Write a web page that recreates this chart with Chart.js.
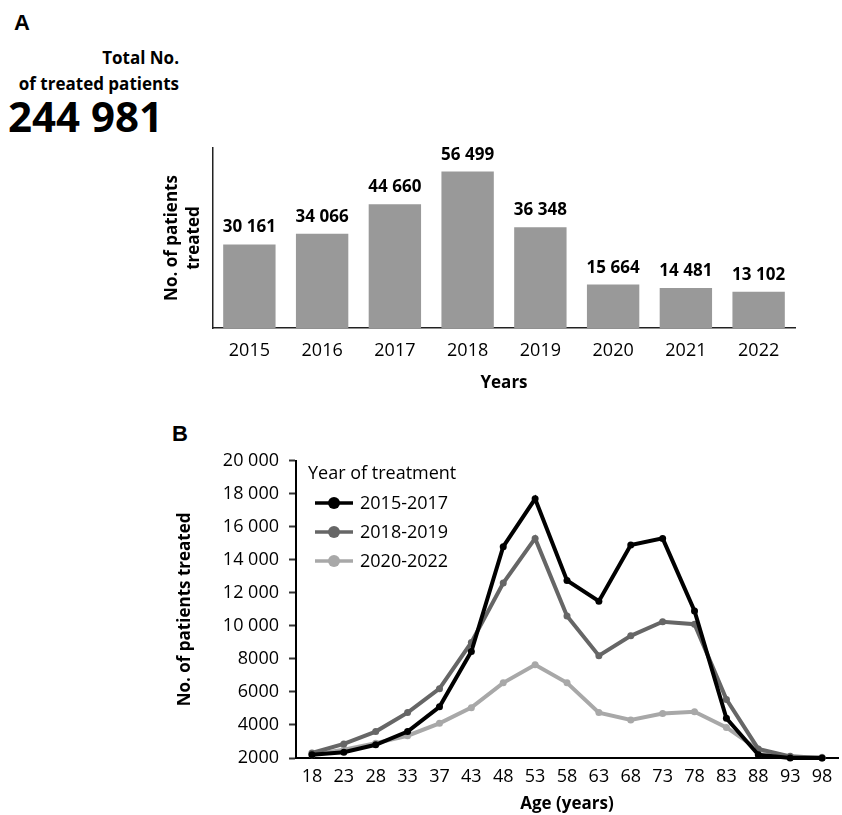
<!DOCTYPE html>
<html>
<head>
<meta charset="utf-8">
<script src="https://cdn.jsdelivr.net/npm/chart.js@4.4.1/dist/chart.umd.min.js"></script>
<style>
  body { margin: 0; width: 842px; height: 815px; position: relative; overflow: hidden; background: #fff; font-family: "Open Sans", sans-serif; color: #000; }
  .panel { position: absolute; font-family: "Liberation Sans", Arial, sans-serif; font-weight: bold; font-size: 22px; line-height: 24px; }
  .hdr { position: absolute; left: 0; width: 179px; text-align: right; font-weight: bold; font-size: 17px; line-height: 20px; white-space: nowrap; }
  .total { position: absolute; left: 8px; top: 92px; font-weight: bold; font-size: 42px; line-height: 48px; white-space: nowrap; }
  canvas { position: absolute; }
</style>
</head>
<body>
<div class="panel" style="left:14px; top:11px;">A</div>
<div class="hdr" style="top:48px;">Total No.</div>
<div class="hdr" style="top:74px;">of treated patients</div>
<div class="total">244 981</div>
<canvas id="bars" width="660" height="260" style="left:150px; top:140px;"></canvas>

<div class="panel" style="left:172px; top:422px;">B</div>
<canvas id="ages" width="682" height="375" style="left:160px; top:440px;"></canvas>

<script>
// Patients treated per year
const years = ['2015', '2016', '2017', '2018', '2019', '2020', '2021', '2022'];
const patientsPerYear = [30161, 34066, 44660, 56499, 36348, 15664, 14481, 13102];

// Patients treated by age group, per treatment period
const ageGroups = ['18', '23', '28', '33', '37', '43', '48', '53', '58', '63', '68', '73', '78', '83', '88', '93', '98'];
const period2015to2017 = [2200, 2350, 2800, 3600, 5100, 8450, 14800, 17700, 12750, 11500, 14900, 15300, 10900, 4400, 2200, 2000, 2000];
const period2018to2019 = [2300, 2850, 3600, 4750, 6200, 9000, 12600, 15300, 10600, 8200, 9400, 10250, 10100, 5550, 2550, 2100, 2000];
const period2020to2022 = [2200, 2500, 2900, 3350, 4100, 5050, 6550, 7650, 6550, 4750, 4300, 4700, 4800, 3850, 2500, 2050, 2050];
const periodLabels = ['2015-2017', '2018-2019', '2020-2022'];
const ageTicks = [2000, 4000, 6000, 8000, 10000, 12000, 14000, 16000, 18000, 20000];

const FONT = '"Open Sans", sans-serif';

function spaced(v) {
  return String(v).replace(/\B(?=(\d{3})+(?!\d))/g, ' ');
}
function axisNumber(v) {
  return v >= 10000 ? spaced(v) : String(v);
}

// Value printed above each bar
const barValueLabels = {
  id: 'barValueLabels',
  afterDatasetsDraw(chart) {
    const ctx = chart.ctx;
    const meta = chart.getDatasetMeta(0);
    const values = chart.data.datasets[0].data;
    ctx.save();
    ctx.font = 'bold 17px ' + FONT;
    ctx.fillStyle = '#000';
    ctx.textAlign = 'center';
    ctx.textBaseline = 'alphabetic';
    meta.data.forEach((bar, i) => {
      ctx.fillText(spaced(values[i]), bar.x, bar.y - 12);
    });
    ctx.restore();
  }
};

// Key drawn inside the plot area, from the datasets' own labels and colours
const seriesKey = {
  id: 'seriesKey',
  afterDraw(chart, args, opts) {
    const ctx = chart.ctx;
    ctx.save();
    ctx.font = '18px ' + FONT;
    ctx.textBaseline = 'middle';
    ctx.textAlign = 'left';
    ctx.fillStyle = '#000';
    ctx.fillText(opts.title, opts.x, opts.y);
    chart.data.datasets.forEach((ds, i) => {
      const y = opts.y + opts.rowGap * (i + 1);
      ctx.strokeStyle = ds.borderColor;
      ctx.lineWidth = 3.5;
      ctx.beginPath();
      ctx.moveTo(opts.x + 7, y);
      ctx.lineTo(opts.x + 45, y);
      ctx.stroke();
      ctx.beginPath();
      ctx.arc(opts.x + 26, y, 6, 0, Math.PI * 2);
      ctx.fillStyle = ds.borderColor;
      ctx.fill();
      ctx.fillStyle = '#000';
      ctx.fillText(ds.label, opts.x + 52, y + 1);
    });
    ctx.restore();
  }
};

Chart.defaults.font.family = FONT;
Chart.defaults.color = '#000';

new Chart(document.getElementById('bars'), {
  type: 'bar',
  data: {
    labels: years,
    datasets: [{
      data: patientsPerYear,
      backgroundColor: '#999999',
      barPercentage: 0.72,
      categoryPercentage: 1.0
    }]
  },
  options: {
    responsive: false,
    animation: false,
    devicePixelRatio: 1,
    layout: { padding: { top: 8, right: 15, bottom: 0, left: 0 } },
    plugins: { legend: { display: false }, tooltip: { enabled: false } },
    scales: {
      x: {
        grid: { display: false, drawTicks: false },
        border: { display: true, color: '#222', width: 1.5 },
        ticks: { font: { size: 18 }, padding: 12, maxRotation: 0 },
        title: { display: true, text: 'Years', font: { size: 17, weight: 'bold' }, padding: { top: 0, bottom: 7 } },
        afterFit(scale) { scale.height = 72; }
      },
      y: {
        min: 0,
        max: 65000,
        grid: { display: false, drawTicks: false },
        border: { display: true, color: '#222', width: 1.5 },
        ticks: { display: false },
        title: { display: true, text: ['No. of patients', 'treated'], font: { size: 17, weight: 'bold', lineHeight: 1.25 }, padding: { top: 12, bottom: 0 } },
        afterFit(scale) { scale.width = 63; }
      }
    }
  },
  plugins: [barValueLabels]
});

new Chart(document.getElementById('ages'), {
  type: 'line',
  data: {
    labels: ageGroups,
    datasets: [
      { label: periodLabels[0], data: period2015to2017, borderColor: '#000000', backgroundColor: '#000000' },
      { label: periodLabels[1], data: period2018to2019, borderColor: '#666666', backgroundColor: '#666666' },
      { label: periodLabels[2], data: period2020to2022, borderColor: '#a8a8a8', backgroundColor: '#a8a8a8' }
    ]
  },
  options: {
    responsive: false,
    animation: false,
    devicePixelRatio: 1,
    clip: false,
    layout: { padding: { top: 9, right: 0, bottom: 0, left: 0 } },
    elements: {
      line: { borderWidth: 4, tension: 0 },
      point: { radius: 3.5, borderWidth: 0 }
    },
    plugins: {
      legend: { display: false },
      tooltip: { enabled: false },
      seriesKey: { title: 'Year of treatment', x: 148, y: 34, rowGap: 29 }
    },
    scales: {
      x: {
        offset: true,
        grid: { display: false, drawTicks: false },
        border: { display: true, color: '#000', width: 2 },
        ticks: { font: { size: 18 }, padding: 8, maxRotation: 0, autoSkip: false },
        title: { display: true, text: 'Age (years)', font: { size: 17, weight: 'bold' }, padding: { top: 0, bottom: 1 } },
        afterFit(scale) { scale.height = 57; }
      },
      y: {
        min: ageTicks[0],
        max: ageTicks[ageTicks.length - 1],
        afterBuildTicks(scale) { scale.ticks = ageTicks.map(v => ({ value: v })); },
        grid: { display: true, drawOnChartArea: false, drawTicks: true, tickLength: 7, tickWidth: 2, tickColor: '#333' },
        border: { display: true, color: '#000', width: 2 },
        ticks: { font: { size: 18 }, padding: 10, callback: v => axisNumber(v) },
        title: { display: true, text: 'No. of patients treated', font: { size: 17, weight: 'bold' }, padding: { top: 15, bottom: 0 } },
        afterFit(scale) { scale.width = 136; }
      }
    }
  },
  plugins: [seriesKey]
});
</script>
</body>
</html>
